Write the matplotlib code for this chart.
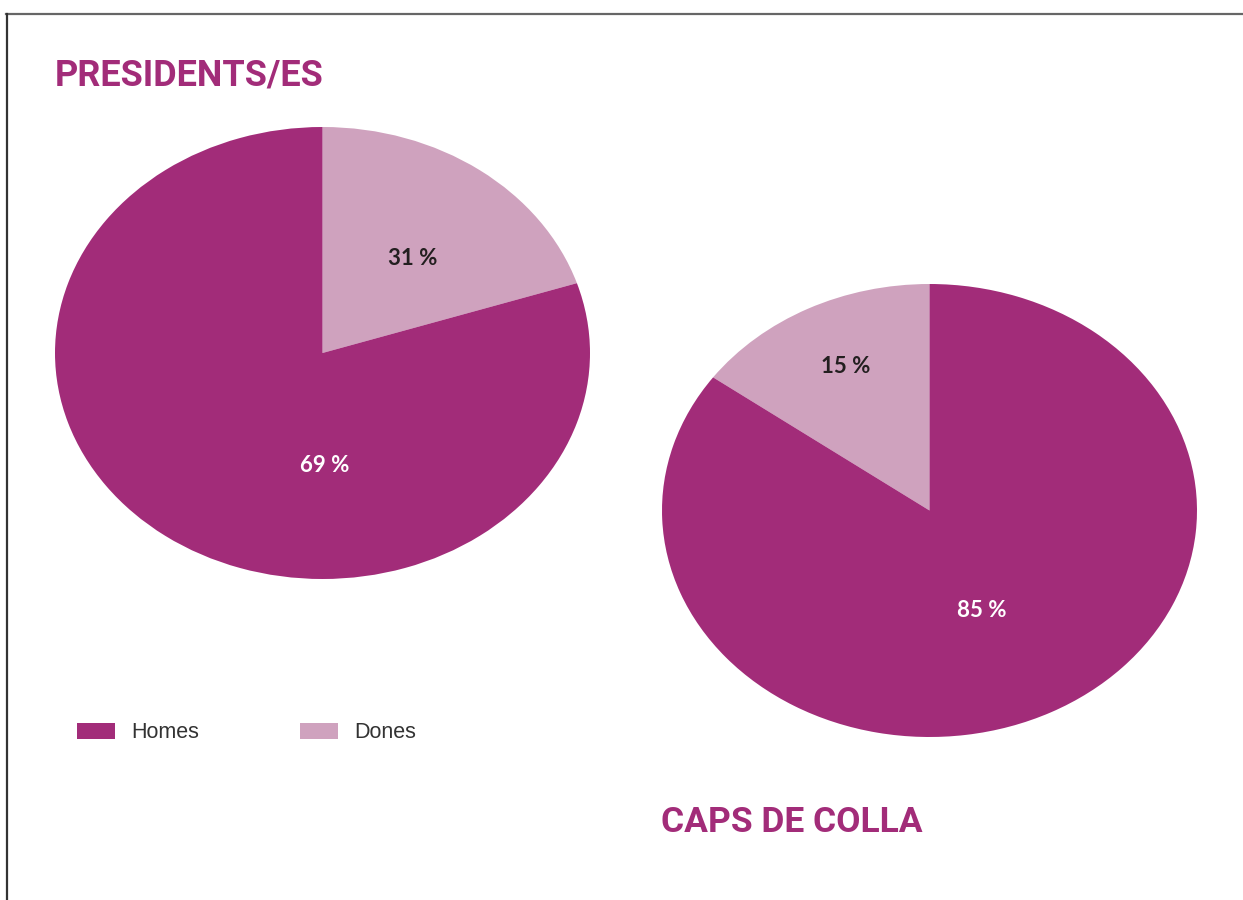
import numpy as np
import matplotlib.pyplot as plt
from matplotlib.lines import Line2D
from matplotlib.patches import Patch

# Dades (mida de les porcions tal com es veuen al gràfic, etiquetes tal com s'escriuen)
categories = ['Dones', 'Homes']
presidents_sizes = [20, 80]
presidents_labels = ['31 %', '69 %']
caps_sizes = [15, 85]
caps_labels = ['15 %', '85 %']

c_homes = '#a22c79'
c_dones = '#cfa2be'
colors = [c_dones, c_homes]
W, H = 1243, 900

fig = plt.figure(figsize=(W / 100, H / 100), dpi=100)
fig.patch.set_facecolor('white')


def px_axes(left, top, right, bottom):
    return fig.add_axes([left / W, 1 - bottom / H, (right - left) / W, (bottom - top) / H])


lab_kw = dict(ha='center', va='center', fontsize=16, fontweight='bold', family='Lato')

# Presidents/es
ax1 = px_axes(55, 127, 590, 579)
ax1.pie(presidents_sizes, colors=colors, startangle=90, counterclock=False,
        radius=1, wedgeprops=dict(linewidth=0))
ax1.set_aspect('auto')
ax1.set_xlim(-1, 1)
ax1.set_ylim(-1, 1)
ax1.axis('off')
ax1.text(0.336, 0.42, presidents_labels[0], color='#231f20', **lab_kw)
ax1.text(0.01, -0.5, presidents_labels[1], color='white', **lab_kw)

# Caps de colla
ax2 = px_axes(662, 284, 1197, 737)
ax2.pie(caps_sizes, colors=colors, startangle=90, counterclock=True,
        radius=1, wedgeprops=dict(linewidth=0))
ax2.set_aspect('auto')
ax2.set_xlim(-1, 1)
ax2.set_ylim(-1, 1)
ax2.axis('off')
ax2.text(-0.314, 0.635, caps_labels[0], color='#231f20', **lab_kw)
ax2.text(0.194, -0.44, caps_labels[1], color='white', **lab_kw)

# Títols
fig.text(55 / W, 1 - 75 / H, 'PRESIDENTS/ES', ha='left', va='center',
         fontsize=26, fontweight='bold', family='Roboto', color=c_homes)
fig.text(661 / W, 1 - 823 / H, 'CAPS DE COLLA', ha='left', va='center',
         fontsize=25.5, fontweight='bold', family='Roboto', color=c_homes)

# Llegenda
handles = [Patch(facecolor=c_homes, edgecolor='none', label='Homes'),
           Patch(facecolor=c_dones, edgecolor='none', label='Dones')]
leg = fig.legend(handles=handles, loc='center left', bbox_to_anchor=(77 / W, 1 - 733 / H),
                 ncol=2, frameon=False, borderpad=0, borderaxespad=0,
                 handlelength=1.77, handleheight=0.79, handletextpad=0.74,
                 columnspacing=4.7, prop={'family': 'Liberation Sans', 'size': 15.5})
for t in leg.get_texts():
    t.set_color('#333333')

# Vora
fig.add_artist(Line2D([6 / W, 1242 / W], [1 - 14 / H, 1 - 14 / H], color='#666666', lw=1.6))
fig.add_artist(Line2D([6.5 / W, 6.5 / W], [1 - 14 / H, 0], color='#333333', lw=1.6))

fig.savefig('out.png', dpi=100, facecolor='white')
